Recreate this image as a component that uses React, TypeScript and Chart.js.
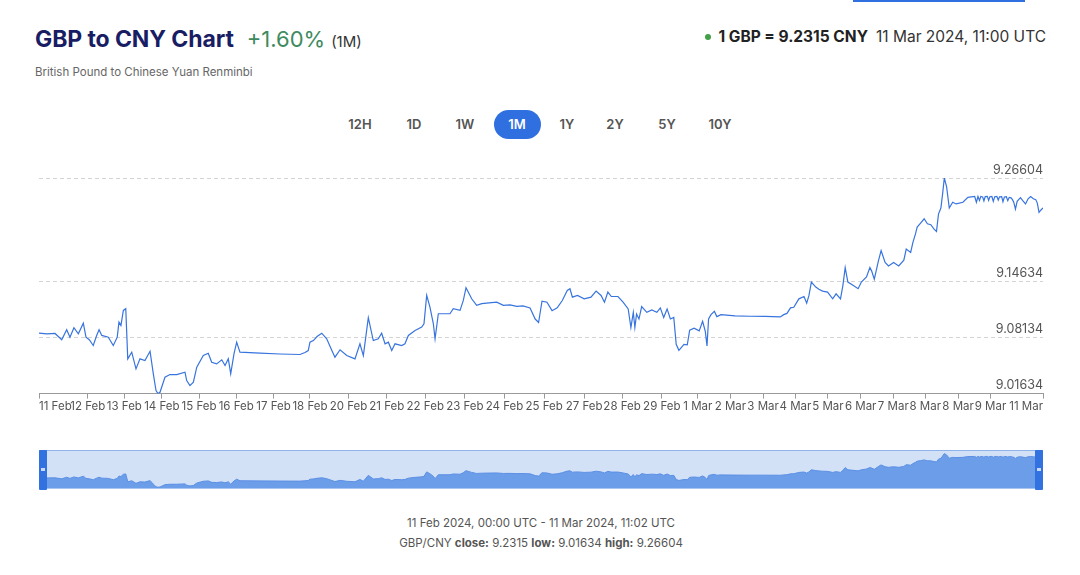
import React, { useEffect, useRef } from "react";
import { Chart, registerables } from "chart.js";

Chart.register(...registerables);

// ---- data ----
// ordinal time in hours since 11 Feb 2024 00:00 UTC (chart's compressed time axis)
const hours = [
  0, 5.6, 11.3, 16.0, 19.5, 21.8, 24.6, 27.7, 31.2, 33.1, 35.4, 38.2, 40.6, 42.3, 44.2, 48.8, 52.3, 55.1, 56.3, 57.7,
  59.4, 61.1, 62.5, 65.3, 68.3, 71.1, 74.6, 78.2, 80.5, 82.4, 83.8, 85.2, 88.7, 92.2, 97.0, 102.8, 104.0, 106.3, 108.7, 111.1,
  115.7, 119.2, 121.6, 125.1, 128.7, 131.0, 133.3, 135.0, 137.3, 139.2, 141.5, 155.6, 169.7, 183.8, 187.3, 189.6, 190.8, 193.2, 195.8, 199.1,
  202.6, 205.6, 208.4, 212.0, 216.7, 222.5, 226.0, 228.4, 231.9, 235.4, 238.9, 241.3, 243.7, 246.0, 248.4, 250.7, 255.4, 257.7, 260.1, 264.8,
  269.5, 271.1, 273.0, 275.3, 277.7, 278.9, 281.2, 285.9, 289.4, 291.7, 296.5, 298.8, 300.7, 304.7, 308.2, 311.8, 316.9, 322.3, 327.0, 331.7,
  336.4, 340.8, 345.8, 349.4, 351.8, 354.2, 357.7, 361.3, 364.9, 368.5, 372.0, 373.9, 375.6, 379.2, 383.9, 388.7, 392.3, 395.8, 398.2, 400.6,
  403.0, 407.7, 411.3, 414.9, 416.8, 418.5, 419.6, 420.8, 422.5, 424.4, 428.0, 431.5, 435.1, 437.5, 439.9, 442.3, 444.6, 447.0, 448.7, 450.6,
  454.2, 456.5, 458.2, 461.3, 464.9, 467.3, 469.2, 470.4, 471.5, 473.2, 475.6, 477.3, 480.3, 490.1, 500.7, 511.2, 522.0, 524.4, 526.7, 529.2,
  531.5, 535.1, 538.7, 540.6, 542.2, 543.9, 547.0, 549.2, 551.8, 555.3, 558.9, 561.3, 564.4, 566.1, 567.7, 569.6, 573.2, 576.8, 579.1, 582.7,
  585.1, 586.3, 588.2, 591.1, 593.0, 595.8, 598.2, 601.8, 605.4, 609.0, 610.7, 613.8, 615.4, 617.2, 618.4, 620.8, 623.3, 625.6, 628.0, 630.3,
  632.0, 633.4, 635.1, 636.3, 637.5, 639.1, 641.0, 643.4, 645.8, 650.6, 654.1, 658.9, 660.1, 661.2, 662.3, 663.2, 664.5, 665.4, 666.3, 667.8,
  668.7, 669.6, 671.0, 672.0, 673.0, 674.5, 675.5, 676.4, 677.9, 678.8, 679.8, 681.2, 682.2, 683.2, 684.5, 685.5, 686.4, 687.6, 688.8, 691.1,
  692.6, 694.7, 696.5, 698.3, 700.2, 701.9, 703.0, 704.2, 705.6, 707.0,
];

const rates = [
  9.0863, 9.0854, 9.086, 9.0787, 9.0903, 9.0817, 9.0926, 9.0856, 9.0979, 9.0817, 9.0787, 9.072, 9.0837, 9.0903, 9.0837, 9.0817, 9.072, 9.0817, 9.0991, 9.0953,
  9.1127, 9.1147, 9.0566, 9.0643, 9.045, 9.0566, 9.0546, 9.0654, 9.0392, 9.0198, 9.01634, 9.0179, 9.0353, 9.0384, 9.0384, 9.0411, 9.0314, 9.0256, 9.0295, 9.0469,
  9.0604, 9.0631, 9.0527, 9.0508, 9.0555, 9.0488, 9.0566, 9.0392, 9.0624, 9.0759, 9.0643, 9.0633, 9.0622, 9.0616, 9.0639, 9.0662, 9.0759, 9.0778, 9.0825, 9.0863,
  9.0798, 9.0686, 9.0585, 9.0671, 9.0604, 9.0566, 9.074, 9.0604, 9.1042, 9.0778, 9.0798, 9.0863, 9.074, 9.0759, 9.0662, 9.074, 9.072, 9.074, 9.0837, 9.0895,
  9.0933, 9.0972, 9.1301, 9.1165, 9.0972, 9.0798, 9.1088, 9.1088, 9.1088, 9.1147, 9.1127, 9.1243, 9.139, 9.1262, 9.1185, 9.1205, 9.1214, 9.1223, 9.1185, 9.1191,
  9.1173, 9.1179, 9.1156, 9.1027, 9.0987, 9.1234, 9.1221, 9.1124, 9.1156, 9.1242, 9.1358, 9.1378, 9.128, 9.13, 9.1261, 9.128, 9.1351, 9.13, 9.1222, 9.1339,
  9.1288, 9.1288, 9.1222, 9.1144, 9.0929, 9.1105, 9.0929, 9.1085, 9.1027, 9.1171, 9.1105, 9.1133, 9.1105, 9.1156, 9.1045, 9.1144, 9.1027, 9.1045, 9.0734, 9.0665,
  9.0734, 9.0728, 9.0898, 9.0921, 9.089, 9.1, 9.0883, 9.0716, 9.1027, 9.1078, 9.1117, 9.1055, 9.1078, 9.1063, 9.1059, 9.1057, 9.1051, 9.1078, 9.1092, 9.1156,
  9.1163, 9.1261, 9.1288, 9.121, 9.13, 9.1455, 9.1397, 9.1371, 9.1351, 9.1339, 9.1261, 9.1319, 9.1261, 9.1417, 9.1623, 9.1455, 9.1417, 9.1378, 9.1455, 9.1514,
  9.1623, 9.1585, 9.1488, 9.1701, 9.1819, 9.1682, 9.1642, 9.1682, 9.1642, 9.1708, 9.1837, 9.1798, 9.1914, 9.2013, 9.2092, 9.2138, 9.2188, 9.213, 9.2119, 9.2068,
  9.2042, 9.2242, 9.2313, 9.2477, 9.26604, 9.2561, 9.2313, 9.2379, 9.236, 9.2379, 9.2437, 9.2446, 9.2379, 9.2446, 9.24, 9.2447, 9.244, 9.2395, 9.2445, 9.2448,
  9.2402, 9.2443, 9.2446, 9.239, 9.2444, 9.2447, 9.2405, 9.2442, 9.2445, 9.2385, 9.244, 9.2443, 9.2398, 9.2436, 9.243, 9.241, 9.238, 9.23, 9.239, 9.2432,
  9.24, 9.236, 9.242, 9.2446, 9.242, 9.241, 9.237, 9.2262, 9.229, 9.2315,
];

const xTickHours = [
  0, 34.4, 60.1, 86.5, 112.7, 138.9, 165.1, 190.8, 217.9, 244.9, 272.0, 299.9, 327.8, 355.7,
  383.9, 410.6, 438.6, 463.9, 486.9, 509.9, 532.7, 555.5, 578.6, 601.6, 624.1, 647.2, 670.0, 707.0,
];
const xTickLabels = [
  "11 Feb", "12 Feb", "13 Feb", "14 Feb", "15 Feb", "16 Feb", "17 Feb", "18 Feb", "20 Feb", "21 Feb", "22 Feb", "23 Feb", "24 Feb", "25 Feb",
  "27 Feb", "28 Feb", "29 Feb", "1 Mar", "2 Mar", "3 Mar", "4 Mar", "5 Mar", "6 Mar", "7 Mar", "8 Mar", "8 Mar", "9 Mar", "11 Mar",
];
const yTickValues = [9.01634, 9.08134, 9.14634, 9.26604];
const yTickLabels = ["9.01634", "9.08134", "9.14634", "9.26604"];
const rangeButtons = ["12H", "1D", "1W", "1M", "1Y", "2Y", "5Y", "10Y"];
const activeRange = "1M";
const X_MIN = 0;
const X_MAX = 707;
const Y_MIN = 9.01634;
const Y_MAX = 9.26604;
const NAV_Y_MIN = 9.0105;
const NAV_Y_MAX = 9.285;

// ---- layout ----
const BUTTON_CENTERS = [360, 414, 465, 517, 567, 615, 667, 720];
const FONT = "Inter, 'Noto Sans', sans-serif";

function points() {
  return hours.map((h, i) => ({ x: h, y: rates[i] }));
}

function MainChart() {
  const ref = useRef<HTMLCanvasElement | null>(null);
  useEffect(() => {
    if (!ref.current) return;
    const chart = new Chart(ref.current, {
      type: "line",
      data: {
        datasets: [
          {
            data: points(),
            borderColor: "#3874de",
            borderWidth: 1.2,
            pointRadius: 0,
            tension: 0,
            fill: false,
          },
        ],
      },
      options: {
        animation: false,
        responsive: false,
        maintainAspectRatio: false,
        events: [],
        layout: { padding: { left: 39, right: 37, top: 28, bottom: 5.6 } },
        plugins: { legend: { display: false }, tooltip: { enabled: false } },
        scales: {
          x: {
            type: "linear",
            min: X_MIN,
            max: X_MAX,
            afterBuildTicks: (s: any) => {
              s.ticks = xTickHours.map((v) => ({ value: v }));
            },
            ticks: {
              autoSkip: false,
              maxRotation: 0,
              minRotation: 0,
              align: "inner",
              padding: 1,
              color: "#555",
              font: { family: FONT, size: 11.5 },
              callback: (_v: any, i: number) => xTickLabels[i],
            },
            grid: { drawOnChartArea: false, drawTicks: true, tickLength: 5, tickColor: "#9a9a9a" },
            border: { display: true, color: "#9a9a9a", width: 1 },
          },
          y: {
            type: "linear",
            position: "right",
            min: Y_MIN,
            max: Y_MAX,
            afterBuildTicks: (s: any) => {
              s.ticks = yTickValues.map((v) => ({ value: v }));
            },
            ticks: {
              mirror: true,
              padding: 0,
              labelOffset: -8,
              color: "#555",
              font: { family: FONT, size: 12.5 },
              callback: (_v: any, i: number) => yTickLabels[i],
            },
            grid: { color: "#d4d4d4", drawTicks: false, lineWidth: 1 },
            border: { display: false, dash: [4, 3] },
          },
        },
      },
    } as any);
    return () => chart.destroy();
  }, []);
  return (
    <canvas
      ref={ref}
      width={1080}
      height={270}
      style={{ position: "absolute", left: 0, top: 150, width: 1080, height: 270 }}
    />
  );
}

function Navigator() {
  const ref = useRef<HTMLCanvasElement | null>(null);
  useEffect(() => {
    if (!ref.current) return;
    const chart = new Chart(ref.current, {
      type: "line",
      data: {
        datasets: [
          {
            data: points(),
            borderColor: "#5b8fe4",
            backgroundColor: "#6b9de8",
            borderWidth: 1,
            pointRadius: 0,
            tension: 0,
            fill: "start",
          },
        ],
      },
      options: {
        animation: false,
        responsive: false,
        maintainAspectRatio: false,
        events: [],
        layout: { padding: 0 },
        plugins: { legend: { display: false }, tooltip: { enabled: false } },
        scales: {
          x: { type: "linear", min: X_MIN, max: X_MAX, display: false },
          y: { type: "linear", min: NAV_Y_MIN, max: NAV_Y_MAX, display: false },
        },
      },
    } as any);
    return () => chart.destroy();
  }, []);
  const handle = (left: number) => (
    <div
      style={{
        position: "absolute",
        left,
        top: 450,
        width: 8,
        height: 40,
        background: "#3271e0",
        borderRadius: 1,
      }}
    >
      <div style={{ position: "absolute", left: 2, top: 18, width: 4, height: 3, background: "#c9d9f6" }} />
    </div>
  );
  return (
    <>
      <div
        style={{
          position: "absolute",
          left: 39,
          top: 450,
          width: 1004,
          height: 39,
          background: "#d3e1f7",
          borderTop: "1px solid #8fb2ea",
          borderBottom: "1px solid #a9c4ef",
          boxSizing: "border-box",
        }}
      />
      <canvas
        ref={ref}
        width={1004}
        height={37}
        style={{ position: "absolute", left: 39, top: 451, width: 1004, height: 37 }}
      />
      {handle(39)}
      {handle(1035)}
    </>
  );
}

export default function App() {
  return (
    <div
      style={{
        position: "absolute",
        left: 0,
        top: 0,
        width: 1080,
        height: 575,
        background: "#fff",
        fontFamily: FONT,
        overflow: "hidden",
      }}
    >
      <div style={{ position: "absolute", left: 853, top: 0, width: 172, height: 2, background: "#2f6fe0" }} />
      <div style={{ position: "absolute", left: 35, top: 25, whiteSpace: "nowrap", lineHeight: "28px" }}>
        <span style={{ fontSize: 23, fontWeight: 700, color: "#191d63", letterSpacing: -0.1 }}>GBP to CNY Chart</span>
        <span style={{ fontSize: 22, fontWeight: 400, color: "#3d8a5e", marginLeft: 13 }}>+1.60%</span>
        <span style={{ fontSize: 15, color: "#333", marginLeft: 6 }}>(1M)</span>
      </div>
      <div style={{ position: "absolute", left: 35, top: 64, fontSize: 11.5, color: "#666", lineHeight: "16px" }}>
        British Pound to Chinese Yuan Renminbi
      </div>
      <div
        style={{
          position: "absolute",
          right: 34,
          top: 27,
          whiteSpace: "nowrap",
          lineHeight: "20px",
          display: "flex",
          alignItems: "center",
        }}
      >
        <span style={{ width: 6, height: 6, borderRadius: 3, background: "#43a047", marginRight: 7, display: "inline-block" }} />
        <span style={{ fontSize: 15.5, fontWeight: 700, color: "#222" }}>1 GBP = 9.2315 CNY</span>
        <span style={{ fontSize: 15.5, color: "#333", marginLeft: 8 }}>11 Mar 2024, 11:00 UTC</span>
      </div>
      {rangeButtons.map((b, i) => {
        const active = b === activeRange;
        return (
          <div
            key={b}
            style={{
              position: "absolute",
              left: BUTTON_CENTERS[i] - 23.5,
              top: 110,
              width: 47,
              height: 29,
              borderRadius: 15,
              background: active ? "#2f6fe0" : "transparent",
              color: active ? "#fff" : "#555",
              fontSize: 13,
              fontWeight: 600,
              lineHeight: "29px",
              textAlign: "center",
            }}
          >
            {b}
          </div>
        );
      })}
      <MainChart />
      <Navigator />
      <div
        style={{
          position: "absolute",
          left: 0,
          width: 1082,
          top: 513,
          textAlign: "center",
          fontSize: 11.5,
          color: "#555",
          lineHeight: "20px",
        }}
      >
        <div>11 Feb 2024, 00:00 UTC - 11 Mar 2024, 11:02 UTC</div>
        <div>
          GBP/CNY <b>close:</b> 9.2315 <b>low:</b> 9.01634 <b>high:</b> 9.26604
        </div>
      </div>
    </div>
  );
}
